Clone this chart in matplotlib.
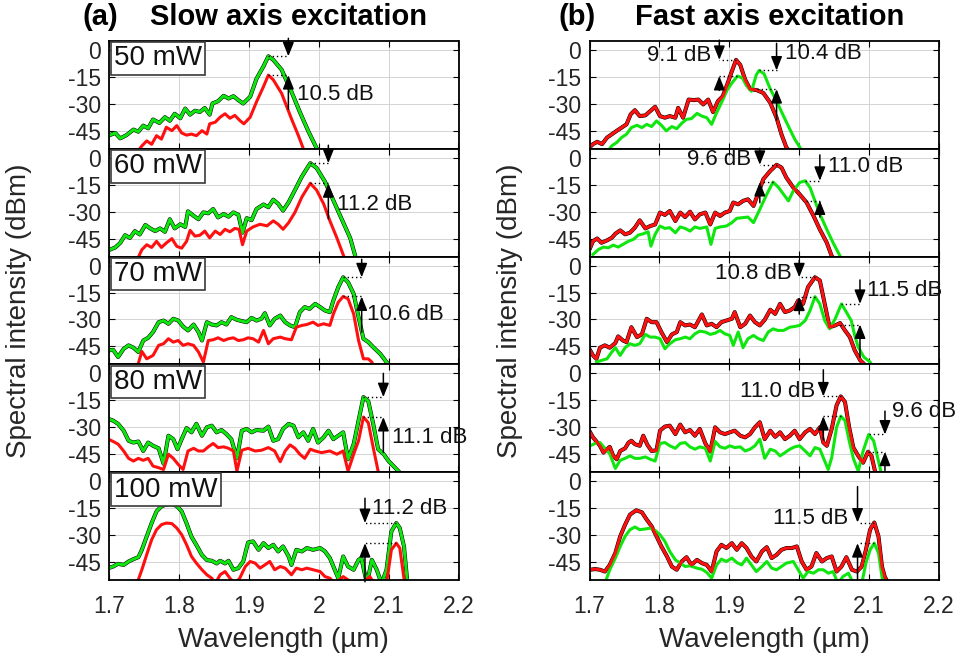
import matplotlib.pyplot as plt

plt.rcParams['font.family'] = ['Liberation Sans', 'DejaVu Sans']
plt.rcParams['axes.unicode_minus'] = False

# ---------------- data: (a) slow axis excitation ----------------
# each curve: (wavelength um, intensity dBm)
a1_green = [(1.699, -47.7), (1.709, -46.2), (1.716, -49.2), (1.725, -47.4), (1.735, -44.3), (1.742, -45.5),
            (1.749, -42.1), (1.756, -43.6), (1.763, -38.7), (1.772, -40.6), (1.780, -37.4), (1.787, -39.4),
            (1.794, -35.5), (1.802, -38.0), (1.809, -32.6), (1.816, -36.0), (1.823, -33.8), (1.830, -34.5),
            (1.837, -32.3), (1.844, -36.0), (1.848, -29.8), (1.856, -28.5), (1.864, -25.5), (1.871, -27.0),
            (1.878, -25.7), (1.885, -27.9), (1.892, -29.8), (1.902, -26.0), (1.911, -16.0), (1.921, -9.1),
            (1.928, -3.5), (1.935, -5.5), (1.947, -11.0), (1.961, -23.2), (1.973, -34.5), (1.985, -45.1),
            (2.000, -57)]
a1_red = [(1.740, -57), (1.747, -53.4), (1.754, -50.6), (1.761, -52.5), (1.768, -47.7), (1.775, -49.6),
          (1.782, -43.0), (1.790, -44.9), (1.797, -42.1), (1.804, -46.2), (1.811, -47.4), (1.818, -46.8),
          (1.825, -47.7), (1.833, -44.9), (1.840, -46.8), (1.844, -41.1), (1.852, -40.2), (1.859, -37.4),
          (1.866, -35.5), (1.873, -38.0), (1.880, -36.4), (1.887, -39.2), (1.893, -41.1), (1.902, -37.4),
          (1.911, -28.9), (1.921, -20.4), (1.928, -14.0), (1.935, -16.6), (1.947, -24.2), (1.961, -38.3),
          (1.971, -47.7), (1.980, -57)]

a2_green = [(1.701, -51.2), (1.709, -49.9), (1.716, -47.4), (1.723, -43.1), (1.730, -44.6), (1.737, -40.8),
            (1.744, -42.7), (1.752, -37.4), (1.759, -39.3), (1.766, -40.8), (1.773, -39.3), (1.780, -41.2),
            (1.787, -34.2), (1.794, -39.3), (1.802, -37.0), (1.809, -38.5), (1.813, -29.8), (1.821, -32.3),
            (1.828, -34.2), (1.835, -30.4), (1.842, -30.9), (1.849, -28.5), (1.856, -33.2), (1.864, -31.3),
            (1.871, -32.8), (1.878, -30.4), (1.885, -31.7), (1.891, -41.7), (1.897, -33.6), (1.904, -34.7),
            (1.911, -28.5), (1.921, -26.0), (1.928, -27.5), (1.935, -23.3), (1.942, -25.6), (1.949, -29.4),
            (1.957, -24.7), (1.966, -18.0), (1.976, -10.4), (1.988, -3.0), (1.997, -5.7), (2.009, -13.3),
            (2.021, -23.7), (2.033, -34.2), (2.045, -44.6), (2.054, -57)]
a2_red = [(1.740, -57), (1.747, -51.2), (1.754, -48.4), (1.761, -49.9), (1.768, -46.5), (1.775, -49.9),
          (1.782, -47.4), (1.790, -45.0), (1.797, -49.3), (1.804, -50.3), (1.811, -46.5), (1.816, -40.4),
          (1.823, -43.6), (1.830, -43.1), (1.837, -40.8), (1.844, -44.6), (1.852, -40.8), (1.859, -42.7),
          (1.866, -39.8), (1.873, -41.2), (1.880, -39.3), (1.886, -39.8), (1.891, -48.4), (1.897, -40.8),
          (1.906, -38.5), (1.916, -37.0), (1.926, -37.9), (1.935, -35.1), (1.942, -37.0), (1.949, -39.8),
          (1.957, -36.1), (1.966, -30.4), (1.976, -21.8), (1.988, -14.2), (1.997, -18.0), (2.007, -25.6),
          (2.016, -35.1), (2.026, -44.6), (2.038, -57)]

a3_green = [(1.699, -47.2), (1.706, -46.9), (1.713, -50.9), (1.721, -46.3), (1.728, -44.4), (1.735, -45.7),
            (1.742, -48.1), (1.749, -41.7), (1.756, -40.2), (1.763, -37.0), (1.771, -31.5), (1.778, -30.6),
            (1.785, -32.4), (1.792, -29.6), (1.799, -30.6), (1.806, -33.9), (1.813, -36.1), (1.821, -32.8),
            (1.828, -37.0), (1.833, -41.7), (1.840, -31.5), (1.847, -32.8), (1.854, -33.3), (1.861, -31.5),
            (1.868, -32.8), (1.875, -28.7), (1.883, -30.2), (1.890, -30.9), (1.897, -31.5), (1.904, -29.1),
            (1.911, -30.6), (1.918, -29.6), (1.923, -26.5), (1.930, -33.3), (1.937, -29.6), (1.945, -27.8),
            (1.952, -31.5), (1.959, -33.3), (1.966, -34.3), (1.973, -25.9), (1.980, -23.1), (1.987, -24.1),
            (1.995, -21.3), (2.002, -23.1), (2.009, -25.0), (2.016, -25.9), (2.021, -19.4), (2.028, -12.0),
            (2.035, -6.5), (2.042, -9.3), (2.050, -15.7), (2.057, -28.7), (2.064, -40.7), (2.071, -42.6),
            (2.078, -45.4), (2.088, -49.1), (2.097, -53.7), (2.104, -57)]
a3_red = [(1.740, -57), (1.747, -47.8), (1.754, -51.9), (1.763, -50.0), (1.771, -44.4), (1.778, -43.5),
          (1.785, -40.7), (1.792, -42.6), (1.799, -41.7), (1.806, -44.4), (1.813, -43.5), (1.821, -44.4),
          (1.828, -48.1), (1.835, -53.7), (1.842, -41.7), (1.849, -41.3), (1.856, -40.2), (1.864, -41.7),
          (1.871, -40.7), (1.878, -40.2), (1.885, -41.7), (1.892, -41.3), (1.899, -40.2), (1.906, -40.7),
          (1.914, -42.6), (1.921, -36.1), (1.928, -43.5), (1.935, -40.7), (1.945, -39.8), (1.952, -40.7),
          (1.961, -41.3), (1.968, -34.3), (1.976, -33.3), (1.983, -32.8), (1.992, -31.5), (1.999, -33.3),
          (2.007, -32.4), (2.016, -33.3), (2.021, -26.9), (2.028, -20.4), (2.035, -17.2), (2.042, -18.5),
          (2.050, -26.9), (2.057, -41.7), (2.064, -51.9), (2.071, -51.9), (2.076, -53.7), (2.080, -57)]

a4_green = [(1.699, -25.3), (1.706, -26.3), (1.713, -28.1), (1.721, -31.9), (1.728, -37.5), (1.735, -38.5),
            (1.742, -37.9), (1.749, -43.2), (1.756, -38.5), (1.763, -40.3), (1.771, -41.7), (1.778, -50.3),
            (1.785, -34.7), (1.792, -36.6), (1.798, -42.2), (1.804, -36.6), (1.811, -30.4), (1.818, -32.8),
            (1.825, -28.1), (1.833, -34.7), (1.840, -30.0), (1.847, -29.1), (1.854, -32.8), (1.861, -31.5),
            (1.868, -33.8), (1.875, -36.6), (1.883, -47.3), (1.890, -31.9), (1.897, -30.9), (1.904, -32.8),
            (1.911, -31.5), (1.921, -31.9), (1.928, -29.6), (1.935, -37.5), (1.942, -36.6), (1.949, -30.9),
            (1.957, -28.1), (1.964, -29.1), (1.971, -35.6), (1.978, -32.8), (1.985, -37.5), (1.992, -30.9),
            (1.999, -38.5), (2.007, -35.6), (2.014, -31.9), (2.021, -36.6), (2.028, -34.7), (2.035, -32.8),
            (2.042, -47.8), (2.050, -39.4), (2.057, -26.3), (2.064, -13.2), (2.071, -15.5), (2.078, -28.1),
            (2.085, -42.2), (2.093, -45.0), (2.100, -48.8), (2.107, -51.6), (2.114, -54.4), (2.120, -57)]
a4_red = [(1.699, -36.6), (1.706, -37.9), (1.713, -39.4), (1.721, -43.2), (1.728, -47.3), (1.735, -48.8),
          (1.742, -47.3), (1.749, -48.4), (1.756, -47.3), (1.763, -51.6), (1.771, -52.5), (1.778, -53.5),
          (1.785, -45.0), (1.792, -47.3), (1.799, -50.7), (1.806, -53.5), (1.813, -43.2), (1.821, -41.7),
          (1.828, -43.2), (1.835, -43.2), (1.842, -40.9), (1.849, -39.0), (1.856, -41.3), (1.864, -40.9),
          (1.871, -41.7), (1.878, -43.2), (1.883, -54.4), (1.890, -42.8), (1.899, -41.7), (1.909, -43.2),
          (1.918, -42.8), (1.928, -41.3), (1.937, -43.2), (1.945, -49.2), (1.952, -43.2), (1.959, -39.8),
          (1.966, -41.7), (1.973, -45.0), (1.980, -47.3), (1.988, -42.2), (1.995, -43.2), (2.004, -44.1),
          (2.016, -43.2), (2.026, -45.0), (2.035, -43.2), (2.042, -54.4), (2.050, -45.0), (2.057, -37.5),
          (2.064, -24.3), (2.071, -27.5), (2.078, -41.3), (2.085, -54.4), (2.090, -57)]

a5_green = [(1.699, -48.4), (1.706, -47.5), (1.713, -46.0), (1.721, -46.6), (1.728, -44.7), (1.735, -43.4),
            (1.742, -42.3), (1.747, -38.2), (1.754, -30.7), (1.761, -23.3), (1.768, -16.8), (1.775, -14.0),
            (1.782, -13.0), (1.790, -12.8), (1.797, -13.8), (1.804, -16.8), (1.811, -23.5), (1.818, -30.9),
            (1.825, -35.5), (1.833, -41.1), (1.840, -43.9), (1.847, -44.3), (1.854, -45.8), (1.859, -44.3),
            (1.866, -45.8), (1.871, -44.3), (1.878, -49.3), (1.885, -48.4), (1.892, -44.7), (1.899, -34.1),
            (1.906, -33.5), (1.914, -38.2), (1.921, -34.5), (1.928, -37.2), (1.935, -35.4), (1.942, -39.1),
            (1.949, -36.3), (1.957, -41.9), (1.961, -46.6), (1.968, -38.2), (1.976, -39.1), (1.983, -37.2),
            (1.992, -38.2), (2.002, -37.2), (2.009, -39.1), (2.016, -42.8), (2.023, -49.3), (2.028, -54.0),
            (2.035, -41.9), (2.042, -47.5), (2.050, -49.3), (2.057, -43.8), (2.061, -42.8), (2.069, -57),
            (2.076, -43.8), (2.083, -49.3), (2.090, -57), (2.097, -49.3), (2.104, -27.9), (2.111, -23.3),
            (2.116, -26.1), (2.122, -36.3), (2.127, -57)]
a5_red = [(1.740, -57), (1.747, -49.3), (1.754, -40.8), (1.761, -32.6), (1.768, -27.0), (1.775, -24.2),
          (1.782, -23.3), (1.790, -23.6), (1.797, -26.1), (1.804, -29.8), (1.811, -35.4), (1.818, -41.9),
          (1.825, -45.6), (1.833, -49.3), (1.840, -52.1), (1.847, -54.0), (1.852, -57), (1.859, -52.1),
          (1.866, -50.3), (1.873, -54.0), (1.880, -57), (1.887, -54.0), (1.895, -47.5), (1.902, -44.7),
          (1.909, -45.6), (1.916, -48.4), (1.923, -46.6), (1.930, -44.7), (1.937, -49.3), (1.945, -47.5),
          (1.952, -48.4), (1.961, -52.1), (1.968, -48.4), (1.976, -49.3), (1.983, -48.4), (1.992, -49.3),
          (2.002, -50.3), (2.009, -53.1), (2.016, -54.0), (2.023, -57), (2.035, -53.1), (2.050, -57),
          (2.061, -57), (2.073, -53.1), (2.080, -57), (2.097, -57), (2.104, -38.2), (2.111, -34.5),
          (2.116, -37.2), (2.123, -57)]

# ---------------- data: (b) fast axis excitation ----------------
b1_red = [(1.700, -54.2), (1.705, -52.4), (1.711, -51.1), (1.718, -52.4), (1.725, -48.8), (1.732, -46.9),
          (1.739, -45.0), (1.746, -43.2), (1.753, -41.4), (1.759, -35.8), (1.765, -33.5), (1.772, -36.8),
          (1.780, -36.4), (1.787, -34.0), (1.794, -31.6), (1.801, -36.8), (1.808, -37.7), (1.815, -36.8),
          (1.823, -37.7), (1.827, -32.2), (1.834, -37.7), (1.842, -27.6), (1.849, -27.9), (1.856, -27.6),
          (1.863, -30.3), (1.870, -27.6), (1.877, -34.6), (1.884, -28.5), (1.891, -25.7), (1.898, -18.4),
          (1.903, -12.9), (1.910, -5.5), (1.916, -8.3), (1.923, -16.5), (1.930, -21.7), (1.940, -22.4),
          (1.949, -23.9), (1.959, -29.4), (1.968, -37.7), (1.975, -46.9), (1.982, -54.2), (1.988, -57)]
b1_green = [(1.725, -57), (1.732, -53.3), (1.739, -51.5), (1.746, -48.7), (1.753, -46.9), (1.760, -43.2),
            (1.768, -41.9), (1.775, -43.2), (1.782, -41.4), (1.789, -42.6), (1.796, -39.5), (1.803, -41.9),
            (1.810, -45.0), (1.818, -42.6), (1.825, -43.8), (1.832, -40.8), (1.839, -38.6), (1.846, -38.2),
            (1.854, -35.3), (1.861, -36.8), (1.868, -37.7), (1.875, -41.4), (1.882, -35.0), (1.889, -29.4),
            (1.897, -22.4), (1.904, -18.4), (1.912, -14.5), (1.919, -15.6), (1.925, -19.9), (1.932, -23.0),
            (1.939, -13.8), (1.943, -11.4), (1.950, -13.2), (1.959, -21.7), (1.968, -28.5), (1.978, -36.8),
            (1.987, -44.1), (1.994, -49.6), (2.002, -54.6), (2.006, -57)]

b2_red = [(1.701, -50.1), (1.705, -46.4), (1.711, -44.9), (1.717, -47.3), (1.725, -46.0), (1.732, -44.5),
          (1.737, -42.3), (1.744, -40.4), (1.751, -42.6), (1.758, -41.7), (1.765, -38.9), (1.772, -34.8),
          (1.780, -39.3), (1.787, -38.0), (1.794, -37.1), (1.801, -30.5), (1.808, -31.8), (1.815, -29.6),
          (1.823, -35.2), (1.830, -30.5), (1.837, -33.0), (1.844, -30.0), (1.851, -34.3), (1.858, -31.5),
          (1.866, -30.5), (1.873, -37.1), (1.880, -30.5), (1.887, -32.4), (1.894, -30.5), (1.901, -29.6),
          (1.906, -24.9), (1.913, -25.9), (1.920, -24.0), (1.927, -23.1), (1.935, -26.8), (1.942, -19.4),
          (1.949, -11.9), (1.959, -7.3), (1.968, -3.9), (1.975, -5.4), (1.982, -11.0), (1.992, -16.6),
          (2.001, -20.3), (2.011, -24.9), (2.021, -32.4), (2.030, -39.9), (2.040, -47.3), (2.047, -54.7),
          (2.052, -57)]
b2_green = [(1.705, -53.8), (1.713, -51.0), (1.720, -49.7), (1.727, -50.1), (1.734, -48.6), (1.741, -49.7),
            (1.748, -48.2), (1.756, -46.4), (1.763, -45.4), (1.770, -43.0), (1.777, -42.3), (1.784, -41.2),
            (1.788, -49.2), (1.794, -42.6), (1.801, -38.0), (1.808, -39.3), (1.815, -38.9), (1.823, -41.7),
            (1.830, -38.5), (1.837, -39.3), (1.844, -40.8), (1.851, -38.5), (1.858, -39.3), (1.868, -38.5),
            (1.874, -48.2), (1.880, -39.3), (1.887, -38.5), (1.896, -38.0), (1.904, -36.1), (1.911, -33.7),
            (1.920, -33.3), (1.927, -33.0), (1.935, -36.1), (1.944, -28.7), (1.954, -20.3), (1.963, -13.5),
            (1.971, -16.6), (1.978, -20.3), (1.985, -24.0), (1.992, -18.4), (2.001, -13.8), (2.009, -12.8),
            (2.016, -16.6), (2.023, -24.0), (2.030, -31.3), (2.040, -39.9), (2.049, -47.3), (2.059, -54.7),
            (2.063, -57)]

b3_red = [(1.701, -47.2), (1.705, -50.0), (1.710, -51.9), (1.715, -45.7), (1.722, -44.4), (1.729, -45.7),
          (1.737, -43.1), (1.741, -39.4), (1.748, -41.7), (1.753, -42.6), (1.760, -34.3), (1.768, -39.8),
          (1.775, -38.3), (1.782, -29.6), (1.789, -31.5), (1.796, -31.5), (1.803, -37.0), (1.811, -42.6),
          (1.818, -38.3), (1.825, -37.0), (1.830, -31.5), (1.837, -33.3), (1.844, -32.8), (1.851, -34.3),
          (1.861, -27.2), (1.868, -33.3), (1.875, -32.4), (1.882, -34.3), (1.889, -31.5), (1.896, -30.6),
          (1.904, -29.6), (1.908, -25.9), (1.916, -34.3), (1.923, -32.4), (1.930, -27.8), (1.937, -31.5),
          (1.944, -33.3), (1.951, -30.2), (1.959, -24.6), (1.966, -26.9), (1.973, -21.3), (1.980, -25.9),
          (1.987, -25.0), (1.994, -23.1), (1.999, -19.4), (2.006, -21.3), (2.013, -12.0), (2.023, -6.5),
          (2.030, -8.3), (2.037, -21.3), (2.044, -34.3), (2.052, -33.3), (2.059, -32.0), (2.066, -36.1),
          (2.073, -39.8), (2.080, -47.2), (2.088, -52.8), (2.093, -54.6), (2.097, -57)]
b3_green = [(1.710, -53.7), (1.717, -52.8), (1.725, -51.9), (1.732, -48.1), (1.737, -45.7), (1.744, -50.0),
            (1.751, -45.7), (1.758, -43.5), (1.765, -44.4), (1.772, -43.5), (1.780, -38.3), (1.787, -39.8),
            (1.794, -39.8), (1.801, -40.7), (1.808, -46.3), (1.815, -43.5), (1.823, -41.3), (1.830, -40.7),
            (1.837, -39.8), (1.844, -40.7), (1.851, -38.0), (1.858, -36.5), (1.866, -37.0), (1.873, -38.3),
            (1.880, -37.6), (1.887, -36.1), (1.894, -38.0), (1.901, -38.9), (1.906, -44.4), (1.913, -37.0),
            (1.920, -45.7), (1.927, -40.7), (1.935, -38.9), (1.942, -40.7), (1.949, -41.7), (1.956, -37.0),
            (1.963, -35.2), (1.970, -36.1), (1.978, -36.1), (1.987, -34.3), (1.994, -33.9), (2.001, -33.3),
            (2.009, -30.6), (2.016, -25.0), (2.023, -17.3), (2.030, -21.3), (2.037, -30.6), (2.044, -35.2),
            (2.052, -29.6), (2.061, -21.3), (2.068, -25.9), (2.075, -30.6), (2.080, -38.9), (2.085, -45.4),
            (2.093, -50.9), (2.102, -53.7), (2.107, -57)]

b4_red = [(1.701, -32.8), (1.705, -35.6), (1.710, -37.9), (1.715, -40.3), (1.720, -44.1), (1.725, -42.2),
          (1.729, -40.9), (1.734, -45.9), (1.739, -47.8), (1.744, -43.2), (1.751, -41.7), (1.756, -38.5),
          (1.760, -37.5), (1.765, -39.4), (1.772, -40.3), (1.777, -34.7), (1.783, -39.8), (1.789, -43.2),
          (1.796, -42.8), (1.801, -31.9), (1.808, -29.6), (1.815, -29.1), (1.823, -33.8), (1.830, -28.5),
          (1.837, -32.8), (1.844, -31.5), (1.851, -34.7), (1.858, -30.9), (1.866, -39.0), (1.873, -43.5),
          (1.880, -30.0), (1.887, -32.8), (1.894, -33.8), (1.901, -32.8), (1.908, -31.9), (1.916, -34.7),
          (1.923, -35.6), (1.930, -33.8), (1.937, -30.0), (1.944, -27.2), (1.951, -36.6), (1.959, -31.9),
          (1.966, -35.3), (1.973, -32.8), (1.980, -36.6), (1.987, -34.7), (1.994, -31.9), (2.001, -36.6),
          (2.009, -32.8), (2.016, -30.9), (2.023, -33.8), (2.030, -30.0), (2.035, -38.5), (2.040, -40.3),
          (2.047, -30.9), (2.054, -17.8), (2.060, -12.8), (2.066, -15.9), (2.072, -30.0), (2.078, -41.3),
          (2.085, -45.9), (2.092, -49.7), (2.099, -43.6), (2.104, -45.9), (2.109, -54.4), (2.113, -57)]
b4_green = [(1.701, -40.3), (1.708, -39.0), (1.715, -38.5), (1.722, -41.7), (1.729, -44.7), (1.737, -52.9),
            (1.744, -48.4), (1.751, -47.3), (1.758, -45.9), (1.765, -47.3), (1.772, -47.3), (1.780, -46.5),
            (1.787, -47.8), (1.794, -48.8), (1.801, -39.0), (1.808, -38.5), (1.815, -40.3), (1.823, -41.7),
            (1.830, -39.0), (1.837, -38.5), (1.844, -40.9), (1.851, -42.2), (1.858, -40.9), (1.866, -41.7),
            (1.873, -48.8), (1.880, -37.9), (1.887, -40.9), (1.894, -41.7), (1.901, -40.3), (1.908, -41.3),
            (1.916, -40.9), (1.923, -43.2), (1.930, -42.2), (1.937, -40.3), (1.944, -36.6), (1.951, -47.3),
            (1.959, -42.2), (1.966, -43.2), (1.973, -45.9), (1.980, -44.1), (1.987, -42.2), (1.994, -40.9),
            (2.001, -40.3), (2.009, -43.2), (2.016, -45.9), (2.023, -41.3), (2.030, -42.2), (2.037, -48.8),
            (2.042, -53.5), (2.047, -46.9), (2.054, -30.0), (2.060, -23.8), (2.066, -26.3), (2.072, -37.5),
            (2.078, -47.3), (2.085, -54.4), (2.092, -43.2), (2.100, -34.0), (2.107, -37.5), (2.114, -48.8),
            (2.119, -57)]

b5_red = [(1.701, -49.3), (1.708, -48.9), (1.715, -49.3), (1.722, -50.3), (1.729, -46.6), (1.737, -40.0),
          (1.744, -30.7), (1.751, -24.2), (1.758, -18.6), (1.767, -16.2), (1.775, -17.3), (1.782, -21.4),
          (1.789, -25.1), (1.796, -30.7), (1.803, -36.3), (1.811, -41.9), (1.818, -47.5), (1.825, -49.3),
          (1.832, -44.7), (1.839, -42.3), (1.846, -46.6), (1.854, -43.8), (1.861, -45.6), (1.868, -46.6),
          (1.875, -50.3), (1.882, -39.1), (1.889, -35.4), (1.896, -37.2), (1.904, -34.5), (1.911, -38.2),
          (1.918, -34.5), (1.925, -37.2), (1.932, -41.9), (1.939, -44.7), (1.947, -39.1), (1.954, -36.7),
          (1.961, -42.8), (1.968, -41.0), (1.975, -38.2), (1.982, -37.2), (1.990, -37.2), (1.997, -36.3),
          (2.004, -44.7), (2.011, -49.3), (2.018, -47.5), (2.025, -40.0), (2.033, -44.7), (2.040, -42.8),
          (2.047, -41.9), (2.054, -50.3), (2.061, -47.5), (2.068, -42.3), (2.076, -49.3), (2.083, -50.3),
          (2.090, -47.5), (2.096, -38.2), (2.102, -27.0), (2.108, -23.0), (2.114, -30.7), (2.119, -47.5),
          (2.123, -53.1), (2.128, -57)]
b5_green = [(1.722, -57), (1.729, -49.3), (1.737, -42.8), (1.744, -36.3), (1.751, -30.7), (1.758, -27.0),
            (1.765, -25.5), (1.772, -27.0), (1.780, -26.6), (1.787, -26.1), (1.794, -27.4), (1.801, -29.8),
            (1.808, -33.5), (1.815, -39.1), (1.823, -43.8), (1.830, -45.6), (1.837, -47.5), (1.844, -47.1),
            (1.854, -48.4), (1.861, -49.0), (1.868, -50.8), (1.875, -54.0), (1.882, -46.6), (1.889, -43.4),
            (1.896, -44.7), (1.904, -42.8), (1.911, -45.3), (1.918, -46.6), (1.925, -42.8), (1.932, -46.6),
            (1.939, -50.3), (1.947, -47.5), (1.954, -44.7), (1.961, -48.4), (1.968, -49.3), (1.975, -47.5),
            (1.982, -45.6), (1.992, -44.7), (1.999, -49.3), (2.006, -54.0), (2.013, -50.3), (2.021, -51.2),
            (2.028, -49.3), (2.035, -49.3), (2.042, -51.2), (2.049, -50.3), (2.056, -57), (2.063, -53.1),
            (2.071, -51.2), (2.078, -57), (2.090, -57), (2.096, -45.6), (2.102, -38.2), (2.108, -34.5),
            (2.114, -40.0), (2.119, -53.1), (2.121, -57)]

powers = ['50 mW', '60 mW', '70 mW', '80 mW', '100 mW']
x_ticks = [1.7, 1.8, 1.9, 2.0, 2.1, 2.2]
x_ticklabels = ['1.7', '1.8', '1.9', '2', '2.1', '2.2']
y_ticks = [-45, -30, -15, 0]

# dB markers: (arrow x, upper level, lower level, upper peak x, lower peak x,
#              down-arrow start, up-arrow start, label, label x, label y, align)
a_marks = [
    [(1.9566, -3.5, -14.0, 1.928, 1.928, 6.5, -33, '10.5 dB', 1.969, -25.0, 'left')],
    [(2.0138, -3.0, -14.2, 1.988, 1.988, 7.0, -34, '11.2 dB', 2.026, -26.2, 'left')],
    [(2.0615, -6.5, -17.2, 2.035, 2.035, 3.5, -37, '10.6 dB', 2.069, -27.4, 'left')],
    [(2.0925, -13.2, -24.3, 2.064, 2.064, 0.0, -44, '11.1 dB', 2.1045, -35.5, 'left')],
    [(2.0662, -23.3, -34.5, 2.111, 2.111, -9.5, -56, '11.2 dB', 2.0758, -15.0, 'left')],
]
b_marks = [
    [(1.886, -5.5, -14.5, 1.910, 1.912, 5.5, -22.5, '9.1 dB', 1.875, -2.8, 'right'),
     (1.968, -11.4, -21.8, 1.943, 1.940, 3.7, -39, '10.4 dB', 1.980, -1.8, 'left')],
    [(1.944, -3.9, -13.5, 1.968, 1.963, 5.3, -25, '9.6 dB', 1.932, -1.2, 'right'),
     (2.030, -12.8, -23.8, 2.009, 2.010, 1.6, -33, '11.0 dB', 2.042, -4.9, 'left')],
    [(2.0005, -6.5, -17.3, 2.023, 2.023, 3.0, -27, '10.8 dB', 1.990, -4.3, 'right'),
     (2.0875, -21.3, -32.8, 2.061, 2.059, -8.0, -51, '11.5 dB', 2.097, -13.6, 'left')],
    [(2.035, -12.8, -23.8, 2.060, 2.060, 2.0, -37, '11.0 dB', 2.023, -10.2, 'right'),
     (2.1233, -34.0, -43.6, 2.100, 2.099, -21.0, -54, '9.6 dB', 2.133, -21.3, 'left')],
    [(2.084, -23.0, -34.5, 2.108, 2.108, -3.0, -55, '11.5 dB', 2.071, -20.6, 'right')],
]

slow_curves = [(a1_green, a1_red), (a2_green, a2_red), (a3_green, a3_red), (a4_green, a4_red), (a5_green, a5_red)]
fast_curves = [(b1_green, b1_red), (b2_green, b2_red), (b3_green, b3_red), (b4_green, b4_red), (b5_green, b5_red)]

GREEN = '#0fe60f'
RED = '#ff1010'
TXT = '#262626'

fig = plt.figure(figsize=(9.61, 6.64), dpi=100)

W, H = 961.0, 664.0
panel_h = 107.8
top_px = 41.0


def draw_panel(ax, green, red, black_on, marks, power, bottom_row):
    gx, gy = zip(*green)
    rx, ry = zip(*red)
    bx, by = (gx, gy) if black_on == 'green' else (rx, ry)
    # black trace sits just under the coinciding coloured trace
    ax.plot(bx, by, color='k', lw=2.9, solid_joinstyle='round', zorder=2)
    ax.plot(gx, gy, color=GREEN, lw=2.2, solid_joinstyle='round', zorder=2.1)
    ax.plot(rx, ry, color=RED, lw=2.2, solid_joinstyle='round', zorder=2.2)

    for (x, hi, lo, px_hi, px_lo, d0, u0, lab, lx, ly, ha) in marks:
        ax.plot([px_hi, x], [hi, hi], color='k', lw=1.0, ls=(0, (1, 2)), zorder=3)
        ax.plot([px_lo, x], [lo, lo], color='k', lw=1.0, ls=(0, (1, 2)), zorder=3)
        aprops = dict(arrowstyle='-|>,head_length=0.7,head_width=0.28', color='k', lw=1.1,
                      shrinkA=0, shrinkB=0, mutation_scale=12)
        ax.annotate('', xy=(x, hi), xytext=(x, d0), arrowprops=aprops, annotation_clip=False, zorder=4)
        ax.annotate('', xy=(x, lo), xytext=(x, u0), arrowprops=aprops, annotation_clip=False, zorder=4)
        ax.text(lx, ly, lab, ha=ha, va='center', fontsize=16, color='#111111', zorder=5)

    if power is not None:
        ax.annotate(power, xy=(0, 1), xycoords='axes fraction', xytext=(3.5, -3.2),
                    textcoords='offset points', ha='left', va='top', fontsize=20, color='#111111',
                    bbox=dict(boxstyle='square,pad=0.12', fc='white', ec='#3a3a3a', lw=1.2), zorder=6)

    ax.set_xlim(1.7, 2.2)
    ax.set_ylim(-55, 5)
    ax.set_xticks(x_ticks)
    ax.set_yticks(y_ticks)
    ax.set_yticklabels([str(v) for v in y_ticks])
    if bottom_row:
        ax.set_xticklabels(x_ticklabels)
    else:
        ax.set_xticklabels([])
    ax.grid(True, color='#d4d4d4', lw=0.7)
    ax.set_axisbelow(True)
    ax.tick_params(direction='in', length=4, width=0.8, labelsize=16.5, labelcolor=TXT,
                   top=True, right=True, pad=6)
    ax.tick_params(axis='x', pad=11)
    for sp in ax.spines.values():
        sp.set_linewidth(1.3)
        sp.set_color('k')


col_left = {'slow': 109.0, 'fast': 589.5}
col_width = {'slow': 349.5, 'fast': 349.0}

for col, curves, marks_list, black_on, show_power in [
        ('slow', slow_curves, a_marks, 'green', True),
        ('fast', fast_curves, b_marks, 'red', False)]:
    for i in range(5):
        top = top_px + i * panel_h
        rect = [col_left[col] / W, 1 - (top + panel_h) / H, col_width[col] / W, panel_h / H]
        ax = fig.add_axes(rect)
        green, red = curves[i]
        draw_panel(ax, green, red, black_on, marks_list[i],
                   powers[i] if show_power else None, i == 4)

# titles and axis labels
fig.text(100 / W, 1 - 17 / H, '(a)', ha='center', va='center', fontsize=21, fontweight='bold')
fig.text(288 / W, 1 - 17 / H, 'Slow axis excitation', ha='center', va='center', fontsize=21, fontweight='bold')
fig.text(577 / W, 1 - 17 / H, '(b)', ha='center', va='center', fontsize=21, fontweight='bold')
fig.text(770 / W, 1 - 17 / H, 'Fast axis excitation', ha='center', va='center', fontsize=21, fontweight='bold')

for xc in (19, 510):
    fig.text(xc / W, 1 - 310.5 / H, 'Spectral intensity (dBm)', rotation=90, ha='center', va='center',
             fontsize=20, color=TXT)
for xc in (283.75, 764.0):
    fig.text(xc / W, 1 - 640 / H, 'Wavelength (µm)', ha='center', va='center', fontsize=20, color=TXT)

fig.savefig('out.png', dpi=100, facecolor='white')
